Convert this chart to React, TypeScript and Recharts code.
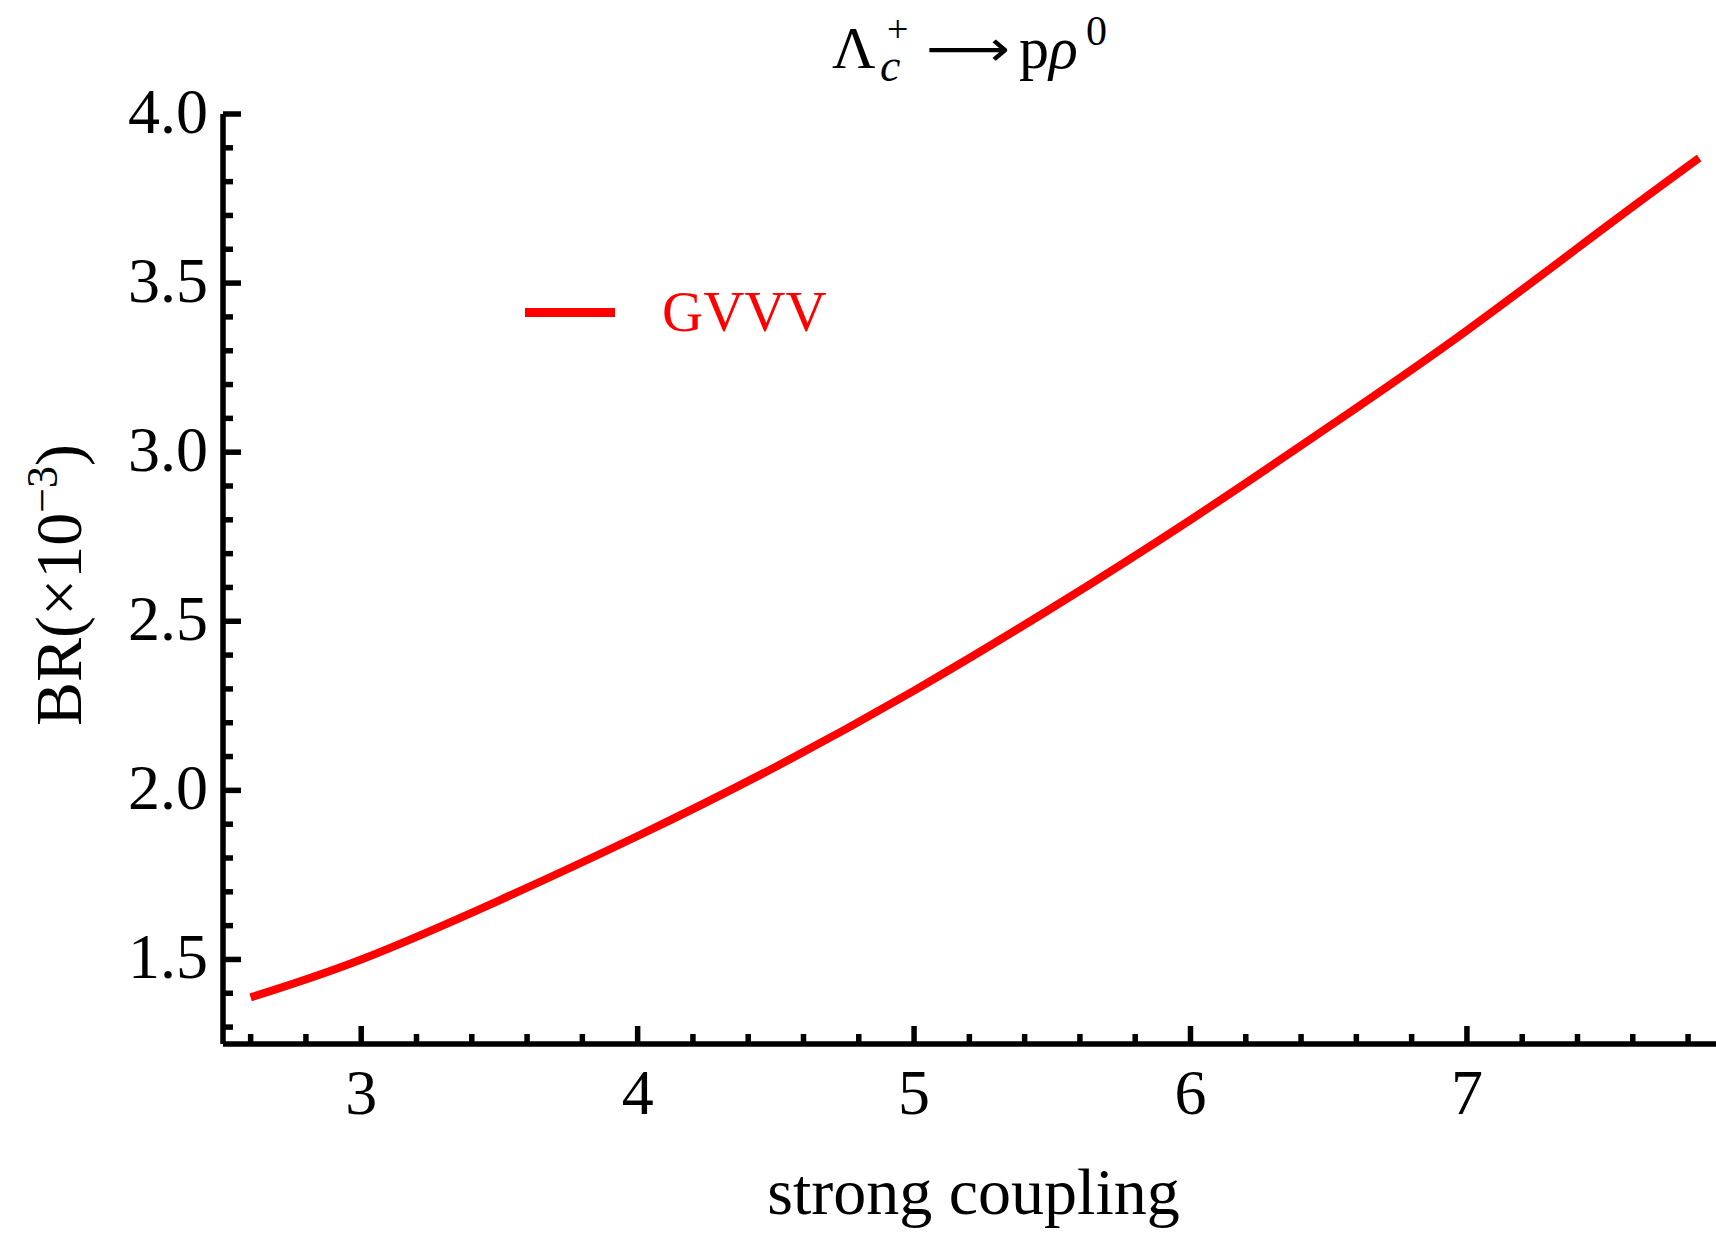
import { Legend, Line, LineChart, XAxis, YAxis } from "recharts";

// strong coupling vs branching ratio (x10^-3)
const coupling = [2.6, 3.0, 3.5, 4.0, 4.5, 5.0, 5.5, 6.0, 6.5, 7.0, 7.5, 7.84];
const branching = [1.388, 1.5, 1.675, 1.865, 2.07, 2.295, 2.54, 2.8, 3.075, 3.36, 3.665, 3.87];

const xMajor = [3, 4, 5, 6, 7];
const yMajor = [1.5, 2.0, 2.5, 3.0, 3.5, 4.0];
const xDomain = [2.5, 7.93];
const yDomain = [1.25, 4.0];

// minor ticks every 0.2 on x, every 0.1 on y
const xTicks = Array.from({ length: 27 }, (_, i) => +(2.6 + i * 0.2).toFixed(1));
const yTicks = Array.from({ length: 28 }, (_, i) => +(1.3 + i * 0.1).toFixed(1));

const data = coupling.map((x, i) => ({ x, br: branching[i] }));

const FONT = '"Liberation Serif", "Times New Roman", serif';
const TW = 5.5;
const isMajor = (v: number, list: number[]) => list.some((m) => Math.abs(m - v) < 1e-6);

const BottomTick = ({ x, y, payload }: any) => {
  const major = isMajor(payload.value, xMajor);
  return (
    <g>
      <line x1={x} x2={x} y1={y} y2={y - (major ? 18 : 10)} stroke="#000" strokeWidth={TW} />
      {major && (
        <text x={x} y={y + 70} textAnchor="middle" fontSize={64} fontFamily={FONT} fill="#000">
          {payload.value}
        </text>
      )}
    </g>
  );
};

const TopTick = ({ x, y, payload }: any) => {
  const major = isMajor(payload.value, xMajor);
  return <line x1={x} x2={x} y1={y} y2={y + (major ? 18 : 10)} stroke="#000" strokeWidth={TW} />;
};

const LeftTick = ({ x, y, payload }: any) => {
  const major = isMajor(payload.value, yMajor);
  return (
    <g>
      <line x1={x} x2={x + (major ? 18 : 10)} y1={y} y2={y} stroke="#000" strokeWidth={TW} />
      {major && (
        <text x={x - 15} y={y + 19} textAnchor="end" fontSize={64} fontFamily={FONT} fill="#000">
          {payload.value.toFixed(1)}
        </text>
      )}
    </g>
  );
};

const RightTick = ({ x, y, payload }: any) => {
  const major = isMajor(payload.value, yMajor);
  return <line x1={x} x2={x - (major ? 18 : 10)} y1={y} y2={y} stroke="#000" strokeWidth={TW} />;
};

const XLabel = ({ viewBox }: any) => (
  <text x={viewBox.x + viewBox.width / 2} y={viewBox.y + 170} textAnchor="middle" fontSize={66} fontFamily={FONT} fill="#000">
    strong coupling
  </text>
);

const YLabel = () => (
  <text transform="translate(81, 585) rotate(-90)" textAnchor="middle" fontSize={66} fontFamily={FONT} fill="#000">
    BR(×10
    <tspan fontSize={44} dy={-24}>−3</tspan>
    <tspan dy={24}>)</tspan>
  </text>
);

const LegendBox = () => (
  <svg width={320} height={70}>
    <line x1={5} x2={95} y1={32.5} y2={32.5} stroke="#ff0000" strokeWidth={9} />
    <text x={142} y={51} fontSize={57} fontFamily={FONT} fill="#ff0000">GVVV</text>
  </svg>
);

export default function App() {
  return (
    <div style={{ position: "absolute", left: 0, top: 0, width: 1716, height: 1234, overflow: "hidden", background: "#fff" }}>
      <LineChart width={1726} height={1234} data={data} margin={{ top: 114, right: 2, bottom: 0, left: 0 }}>
        <XAxis
          xAxisId="b"
          dataKey="x"
          type="number"
          domain={xDomain}
          ticks={xTicks}
          allowDataOverflow
          interval={0}
          height={190}
          tickSize={0}
          tickMargin={0}
          tick={<BottomTick />}
          axisLine={{ stroke: "#000", strokeWidth: TW }}
          label={<XLabel />}
        />
        <XAxis
          xAxisId="t"
          orientation="top"
          type="number"
          domain={xDomain}
          ticks={xTicks}
          allowDataOverflow
          interval={0}
          height={0}
          tickSize={0}
          tickMargin={0}
          tick={<TopTick />}
          axisLine={{ stroke: "#000", strokeWidth: TW }}
        />
        <YAxis
          yAxisId="l"
          type="number"
          domain={yDomain}
          ticks={yTicks}
          allowDataOverflow
          interval={0}
          width={223}
          tickSize={0}
          tickMargin={0}
          tick={<LeftTick />}
          axisLine={{ stroke: "#000", strokeWidth: TW }}
          label={<YLabel />}
        />
        <YAxis
          yAxisId="r"
          orientation="right"
          type="number"
          domain={yDomain}
          ticks={yTicks}
          allowDataOverflow
          interval={0}
          width={0}
          tickSize={0}
          tickMargin={0}
          tick={<RightTick />}
          axisLine={{ stroke: "#000", strokeWidth: TW }}
        />
        <Legend
          layout="horizontal"
          verticalAlign="middle"
          align="center"
          content={<LegendBox />}
          wrapperStyle={{ position: "absolute", left: 520, top: 280, width: 320, height: 70 }}
        />
        <Line
          xAxisId="b"
          yAxisId="l"
          dataKey="br"
          type="natural"
          stroke="#ff0000"
          strokeWidth={8}
          dot={false}
          activeDot={false}
          isAnimationActive={false}
        />
      </LineChart>
      <svg width={1716} height={110} style={{ position: "absolute", left: 0, top: 0 }}>
        <text fontFamily={FONT} fill="#000">
          <tspan x={832} y={68} fontSize={60}>Λ</tspan>
          <tspan x={887} y={42} fontSize={38}>+</tspan>
          <tspan x={880} y={81} fontSize={46} fontStyle="italic">c</tspan>
          <tspan x={926} y={66} fontSize={50} fontFamily='"DejaVu Sans", sans-serif' textLength={84} lengthAdjust="spacingAndGlyphs">⟶</tspan>
          <tspan x={1019} y={68} fontSize={60}>p</tspan>
          <tspan x={1049} y={68} fontSize={60} fontStyle="italic">ρ</tspan>
          <tspan x={1086} y={45} fontSize={42}>0</tspan>
        </text>
      </svg>
    </div>
  );
}
